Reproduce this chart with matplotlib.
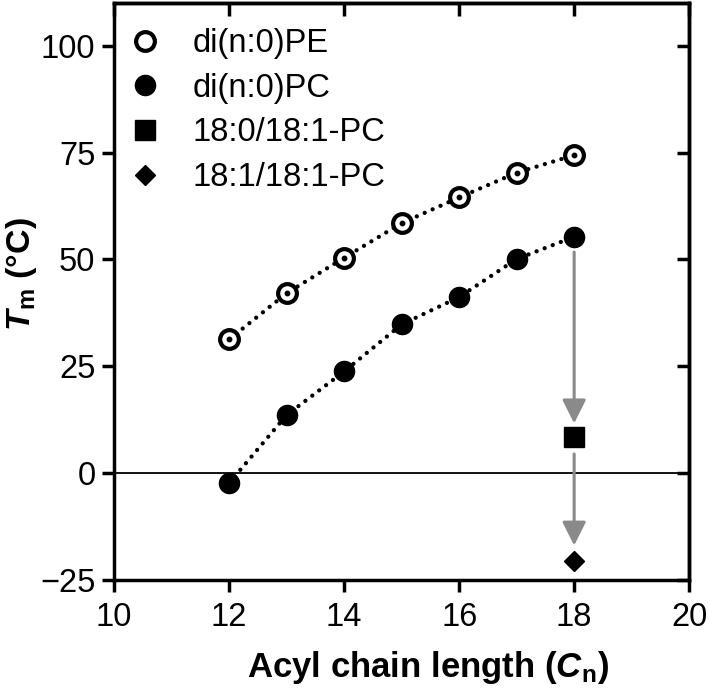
import matplotlib
matplotlib.use("Agg")
import matplotlib.pyplot as plt

# Chain length (number of carbons per acyl chain)
chain_length = [12, 13, 14, 15, 16, 17, 18]

# Main transition temperatures (deg C)
pe_tm = [31.3, 42.1, 50.4, 58.5, 64.5, 70.3, 74.4]
pc_tm = [-2.3, 13.6, 23.8, 34.8, 41.2, 50.1, 55.3]

# Unsaturated 18-carbon lipids
unsat_chain = [18]
popc_tm = [8.4]   # 18:0/18:1-PC
dopc_tm = [-20.5]  # 18:1/18:1-PC

x_ticks = [10, 12, 14, 16, 18, 20]
y_ticks = [-25, 0, 25, 50, 75, 100]

plt.rcParams['font.family'] = ['Liberation Sans', 'DejaVu Sans']
plt.rcParams['mathtext.fontset'] = 'custom'
plt.rcParams['mathtext.rm'] = 'Liberation Sans'
plt.rcParams['mathtext.it'] = 'Liberation Sans:italic'
plt.rcParams['mathtext.bf'] = 'Liberation Sans:bold'
plt.rcParams['mathtext.bfit'] = 'Liberation Sans:bold:italic'

fs = 23.5
grey = '#8a8a8a'

fig = plt.figure(figsize=(7.09, 6.98), dpi=100)
ax = fig.add_axes([0.161, 0.169, 0.811, 0.8267])

# zero line
ax.axhline(0, color='black', lw=1.3, zorder=1)

# dotted guide lines
dots = dict(color='black', lw=3.1, dashes=(0.01, 2.0), dash_capstyle='round', zorder=2)
ax.plot(chain_length, pe_tm, **dots)
ax.plot(chain_length, pc_tm, **dots)

ax.plot(chain_length, pe_tm, 'o', ms=13.5, mfc='white', mec='black', mew=3.0,
        zorder=3, label='di(n:0)PE')
ax.plot(chain_length, pe_tm, 'o', ms=3.2, color='black', zorder=4)
ax.plot(chain_length, pc_tm, 'o', ms=14.5, color='black', zorder=3, label='di(n:0)PC')
ax.plot(unsat_chain, popc_tm, 's', ms=14, color='black', zorder=3, label='18:0/18:1-PC')
ax.plot(unsat_chain, dopc_tm, 'D', ms=10.5, color='black', zorder=3, label='18:1/18:1-PC')

# arrows showing the effect of unsaturation
arrow = dict(arrowstyle='-|>,head_length=0.8,head_width=0.4', color=grey,
             lw=2.2, mutation_scale=18, shrinkA=11, shrinkB=10)
ax.annotate('', xy=(unsat_chain[0], popc_tm[0]), xytext=(chain_length[-1], pc_tm[-1]),
            arrowprops=arrow, zorder=2)
arrow2 = dict(arrow, shrinkA=12, shrinkB=11)
ax.annotate('', xy=(unsat_chain[0], dopc_tm[0]), xytext=(unsat_chain[0], popc_tm[0]),
            arrowprops=arrow2, zorder=2)

ax.set_xlim(10, 20)
ax.set_ylim(-25, 110)
ax.set_xticks(x_ticks)
ax.set_yticks(y_ticks)

for s in ax.spines.values():
    s.set_linewidth(2.5)
ax.tick_params(axis='both', which='major', direction='out', length=8.5, width=2.5,
               labelsize=fs, pad=5)
ax.tick_params(axis='x', pad=7)
ax2 = ax.secondary_xaxis('top')
ax2.set_xticks(x_ticks)
ax2.tick_params(direction='in', length=9, width=2.5, labeltop=False)
ax3 = ax.secondary_yaxis('right')
ax3.set_yticks(y_ticks)
ax3.tick_params(direction='in', length=9, width=2.5, labelright=False)
for a in (ax2, ax3):
    for s in a.spines.values():
        s.set_linewidth(2.5)

ax.set_xlabel(r'Acyl chain length ($\mathbfit{C}_{\mathbf{n}}$)', fontsize=25, fontweight='bold')
ax.xaxis.set_label_coords(0.546, -0.12)
ax.set_ylabel(r'$\mathbfit{T}_{\mathbf{m}}$ (°C)', fontsize=24.5, fontweight='bold')
ax.yaxis.set_label_coords(-0.13, 0.53)

ax.legend(loc='upper left', bbox_to_anchor=(0.0, 0.985), frameon=False, fontsize=fs,
          handlelength=0.9, handletextpad=1.0, labelspacing=0.42, borderaxespad=0.3,
          borderpad=0.2)

fig.savefig('out.png', dpi=100)
